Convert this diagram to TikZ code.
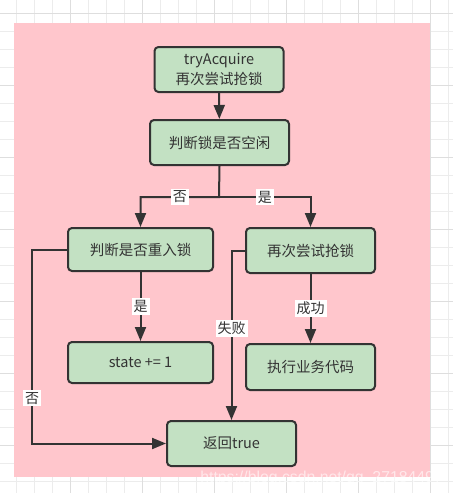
\documentclass[tikz,border=0pt]{standalone}
\usepackage{fontspec}
\setmainfont{Noto Sans CJK SC}
\newfontfamily\wmfont{Liberation Sans}
\usetikzlibrary{arrows.meta}
\definecolor{bgpink}{RGB}{255,198,204}
\definecolor{boxgreen}{RGB}{195,225,195}
\definecolor{inkgray}{RGB}{51,51,51}
\definecolor{gridlight}{RGB}{236,236,236}
\definecolor{gridmid}{RGB}{222,222,222}
\begin{document}
\begin{tikzpicture}[x=1pt, y=-1pt, font=\fontsize{14.5}{20}\selectfont, text=inkgray,
  box/.style={draw=inkgray, line width=2pt, fill=boxgreen, rounded corners=4pt,
    minimum width=129pt, minimum height=45pt, align=center, inner sep=2pt},
  conn/.style={draw=inkgray, line width=2pt, -{Triangle[length=14pt, width=11pt]}},
  lbl/.style={fill=white, text=inkgray, inner sep=2pt, font=\fontsize{14}{16}\selectfont}]
  \useasboundingbox (0,0) rectangle (453,493);
  % background grid
  \fill[white] (0,0) rectangle (453,493);
  \foreach \gx in {16,34,...,452}
    \draw[gridlight, line width=1pt] (\gx,0) -- (\gx,493);
  \foreach \gy in {13,31,...,492}
    \draw[gridlight, line width=1pt] (0,\gy) -- (453,\gy);
  \foreach \gx in {70,142,...,452}
    \draw[gridmid, line width=1pt] (\gx,0) -- (\gx,493);
  \foreach \gy in {13,85,...,492}
    \draw[gridmid, line width=1pt] (0,\gy) -- (453,\gy);
  \fill[bgpink] (14,23) rectangle (430,477);
  % nodes
  \node[box] (acquire) at (219,69.5) {tryAcquire\\再次尝试抢锁};
  \node[box, minimum width=139pt] (idle) at (219.5,142.5) {判断锁是否空闲};
  \node[box, minimum width=145pt, minimum height=43pt] (reenter) at (140.5,249.5) {判断是否重入锁};
  \node[box] (retry) at (310.5,250.5) {再次尝试抢锁};
  \node[box, minimum width=145pt, minimum height=41pt] (incr) at (140.5,362.5) {state += 1};
  \node[box, minimum height=46pt] (business) at (310.5,367) {执行业务代码};
  \node[box] (ret) at (231.5,443.5) {返回true};
  \coordinate (split) at (219,197);
  \coordinate (leftrail) at (32,249.5);
  % connectors
  \draw[conn] (acquire) -- (idle);
  \draw[conn] (idle.south) -- (split) -| node[lbl, pos=0.25] {否} (reenter.north);
  \draw[conn] (split) -| node[lbl, pos=0.25] {是} (retry.north);
  \draw[conn] (reenter) -- node[lbl] {是} (incr);
  \draw[conn] (retry) -- node[lbl] {成功} (business);
  \draw[conn] (reenter.west) -- (leftrail) |- node[lbl, pos=0.383] {否} (ret.west);
  \draw[conn] (retry.west) -| node[lbl, pos=0.73] {失败} (ret.north);
  % watermark
  \node[anchor=east, text=white, opacity=0.6, inner sep=0pt,
    font=\wmfont\fontsize{15.8}{18}\selectfont] (mark) at (443,478) {https://blog.csdn.net/qq\_27184497};
\end{tikzpicture}
\end{document}
